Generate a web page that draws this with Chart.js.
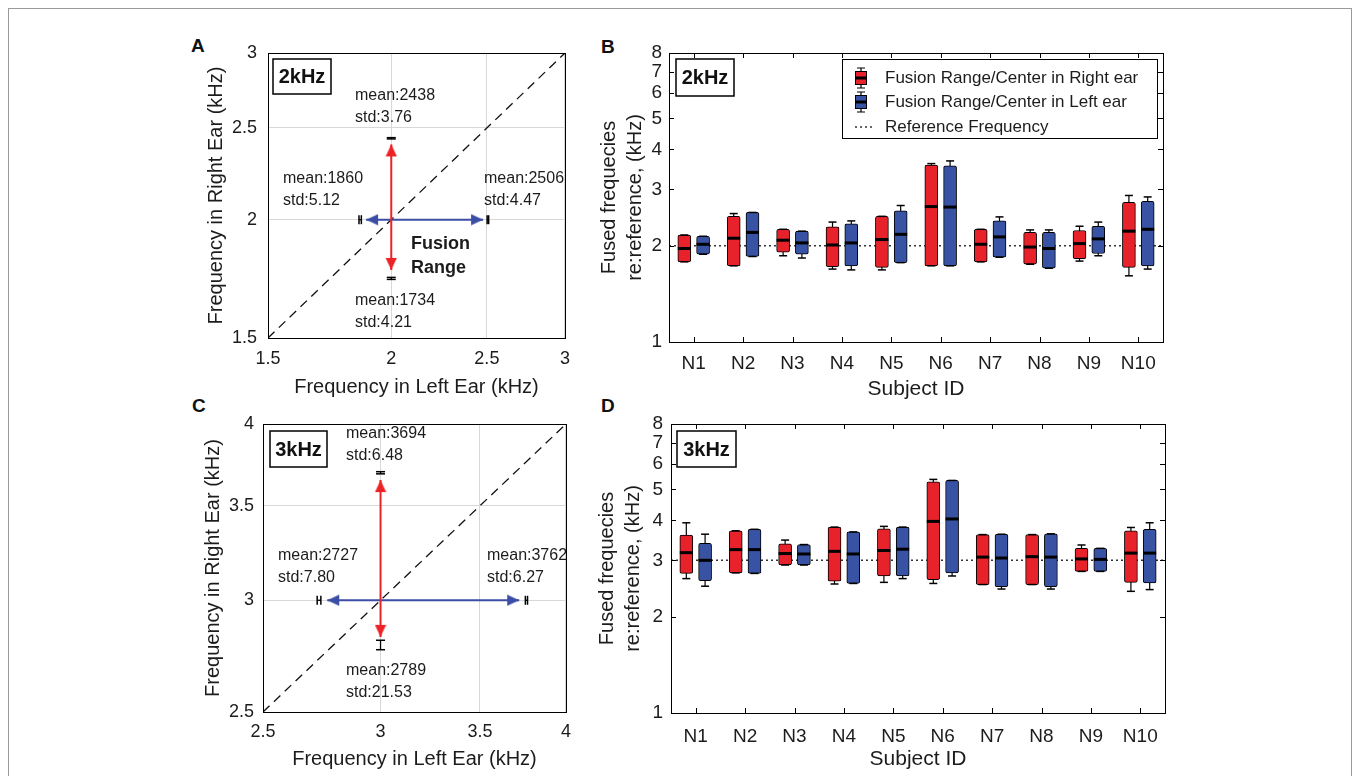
<!DOCTYPE html>
<html>
<head>
<meta charset="utf-8">
<script src="https://cdn.jsdelivr.net/npm/chart.js@4.4.1/dist/chart.umd.min.js"></script>
<style>
html,body{margin:0;padding:0;background:#fff;overflow:hidden;}
#frame{position:absolute;left:8px;top:8px;width:1342px;height:800px;border:1px solid #9a9a9a;}
canvas{position:absolute;}
.tag{position:absolute;font:bold 19px "Liberation Sans",Arial,sans-serif;color:#111;line-height:1;}
</style>
</head>
<body>
<div id="frame"></div>
<div class="tag" style="left:191px;top:36px">A</div>
<div class="tag" style="left:601px;top:37px">B</div>
<div class="tag" style="left:192px;top:396px">C</div>
<div class="tag" style="left:601px;top:396px">D</div>
<canvas id="cA" width="400" height="370" style="left:180px;top:30px"></canvas>
<canvas id="cB" width="600" height="370" style="left:590px;top:30px"></canvas>
<canvas id="cC" width="400" height="380" style="left:180px;top:390px"></canvas>
<canvas id="cD" width="600" height="380" style="left:590px;top:390px"></canvas>
<script>
const subjects = ['N1','N2','N3','N4','N5','N6','N7','N8','N9','N10'];
const logTicks = [1,2,3,4,5,6,7,8];

// per subject: [whisker low, box low, centre, box high, whisker high], kHz
const right2k = [
  [1.78,1.78,1.96,2.16,2.16],[1.73,1.73,2.11,2.47,2.52],[1.86,1.91,2.08,2.25,2.25],
  [1.69,1.72,2.01,2.29,2.37],[1.68,1.71,2.09,2.47,2.47],[1.73,1.73,2.65,3.57,3.61],
  [1.78,1.78,2.02,2.25,2.25],[1.75,1.75,1.98,2.20,2.24],[1.79,1.82,2.03,2.23,2.30],
  [1.61,1.71,2.22,2.73,2.87]];
const left2k = [
  [1.88,1.88,2.02,2.14,2.14],[1.85,1.85,2.20,2.54,2.54],[1.83,1.88,2.04,2.22,2.22],
  [1.68,1.73,2.04,2.34,2.39],[1.77,1.77,2.17,2.57,2.67],[1.73,1.73,2.64,3.55,3.68],
  [1.84,1.84,2.13,2.39,2.46],[1.70,1.70,1.96,2.20,2.24],[1.86,1.89,2.10,2.30,2.37],
  [1.69,1.73,2.25,2.75,2.84]];
const right3k = [
  [2.63,2.73,3.17,3.60,3.93],[2.74,2.74,3.24,3.71,3.71],[2.90,2.90,3.15,3.38,3.47],
  [2.53,2.58,3.20,3.81,3.81],[2.56,2.68,3.22,3.76,3.83],[2.54,2.61,3.97,5.28,5.37],
  [2.52,2.52,3.07,3.61,3.61],[2.52,2.52,3.08,3.61,3.61],[2.77,2.77,3.03,3.27,3.35],
  [2.40,2.56,3.16,3.71,3.80]];
const left3k = [
  [2.49,2.59,3.00,3.39,3.62],[2.73,2.73,3.24,3.75,3.75],[2.90,2.90,3.14,3.36,3.36],
  [2.54,2.54,3.14,3.68,3.68],[2.63,2.68,3.25,3.81,3.81],[2.68,2.74,4.04,5.33,5.33],
  [2.44,2.48,3.05,3.62,3.62],[2.44,2.48,3.07,3.63,3.63],[2.77,2.77,3.02,3.27,3.27],
  [2.43,2.55,3.16,3.75,3.93]];

// fusion limits, order: right ear upper, right ear lower, left ear lower, left ear upper (Hz)
const ticks2k = [1.5,2,2.5,3];
const mean2k = [2438,1734,1860,2506];
const std2k = [3.76,4.21,5.12,4.47];
const tips2k = [2.402,1.770,1.886,2.478];   // arrow tips, kHz
const ticks3k = [2.5,3,3.5,4];
const mean3k = [3694,2789,2727,3762];
const std3k = [6.48,21.53,7.80,6.27];
const tips3k = [3.650,2.826,2.762,3.720];

const FONT = '"Liberation Sans", Arial, sans-serif';
const RED = '#e8222a', BLUE = '#3852a4';
const ARED = '#ec2227', ABLUE = '#3b4ea6';
Chart.defaults.font.family = FONT;
Chart.defaults.color = '#1c1c1c';

function arrowHead(color) {
  const c = document.createElement('canvas');
  c.width = 12; c.height = 26;
  const g = c.getContext('2d');
  g.fillStyle = color;
  g.beginPath(); g.moveTo(6, 13); g.lineTo(11.6, 25); g.lineTo(0.4, 25); g.closePath(); g.fill();
  return c;
}

function miniBox(ctx, x, y, col) {
  ctx.strokeStyle = '#000'; ctx.lineWidth = 1.2;
  ctx.beginPath();
  ctx.moveTo(x, y - 10); ctx.lineTo(x, y + 10);
  ctx.moveTo(x - 4, y - 10); ctx.lineTo(x + 4, y - 10);
  ctx.moveTo(x - 4, y + 10); ctx.lineTo(x + 4, y + 10);
  ctx.stroke();
  ctx.fillStyle = col;
  ctx.fillRect(x - 5.5, y - 6.5, 11, 13);
  ctx.lineWidth = 1;
  ctx.strokeRect(x - 5.5, y - 6.5, 11, 13);
  ctx.lineWidth = 3;
  ctx.beginPath(); ctx.moveTo(x - 5.5, y); ctx.lineTo(x + 5.5, y); ctx.stroke();
}

function drawLegend(ctx) {
  ctx.fillStyle = '#fff';
  ctx.fillRect(252, 29, 315, 79);
  ctx.strokeStyle = '#000'; ctx.lineWidth = 1;
  ctx.strokeRect(252.5, 29.5, 315, 79);
  ctx.font = '17px ' + FONT; ctx.textAlign = 'left'; ctx.textBaseline = 'middle';
  miniBox(ctx, 271, 48, RED);
  miniBox(ctx, 271, 72, BLUE);
  ctx.fillStyle = '#1c1c1c';
  ctx.fillText('Fusion Range/Center in Right ear', 295, 48);
  ctx.fillText('Fusion Range/Center in Left ear', 295, 72);
  ctx.strokeStyle = '#333'; ctx.lineWidth = 1.5; ctx.setLineDash([2, 3]);
  ctx.beginPath(); ctx.moveTo(265, 97); ctx.lineTo(283, 97); ctx.stroke();
  ctx.setLineDash([]);
  ctx.fillText('Reference Frequency', 295, 97);
}

function decor(cfg) {
  return {
    id: 'decor',
    afterDatasetsDraw(chart) {
      const {ctx, chartArea: a, scales} = chart;
      ctx.save();
      ctx.strokeStyle = '#000'; ctx.lineWidth = 1;
      if (cfg.inner) {
        ctx.beginPath();
        logTicks.forEach(v => {
          const y = Math.round(scales.y.getPixelForValue(v)) + 0.5;
          ctx.moveTo(a.left, y); ctx.lineTo(a.left + 5, y);
          ctx.moveTo(a.right, y); ctx.lineTo(a.right - 5, y);
        });
        subjects.forEach((s, i) => {
          const x = Math.round(scales.x.getPixelForValue(i + 1)) + 0.5;
          ctx.moveTo(x, a.top); ctx.lineTo(x, a.top + 5);
          ctx.moveTo(x, a.bottom); ctx.lineTo(x, a.bottom - 5);
        });
        ctx.stroke();
      }
      ctx.strokeRect(Math.round(a.left) + 0.5, Math.round(a.top) + 0.5,
        Math.round(a.right - a.left), Math.round(a.bottom - a.top));
      const t = cfg.tag;
      ctx.fillStyle = '#fff';
      ctx.fillRect(t.x, t.y, t.w, t.h);
      ctx.lineWidth = 1.5;
      ctx.strokeRect(t.x, t.y, t.w, t.h);
      ctx.fillStyle = '#111';
      ctx.font = 'bold 20px ' + FONT; ctx.textAlign = 'center'; ctx.textBaseline = 'middle';
      ctx.fillText(t.text, t.x + t.w / 2, t.y + t.h / 2 + 1);
      ctx.textAlign = 'left';
      ctx.fillStyle = '#1c1c1c';
      (cfg.notes || []).forEach(n => {
        ctx.font = (n.bold ? 'bold ' : '') + n.size + 'px ' + FONT;
        ctx.fillText(n.text, n.x, n.y);
      });
      if (cfg.legend) drawLegend(ctx);
      ctx.restore();
    }
  };
}

function rangeNotes(means, stds, spots) {
  const out = [];
  means.forEach((m, k) => {
    out.push({text: 'mean:' + m, x: spots[k][0], y: spots[k][1], size: 16});
    out.push({text: 'std:' + stds[k].toFixed(2), x: spots[k][0], y: spots[k][1] + 21.5, size: 16});
  });
  return out;
}

function rangeChart(id, ticks, means, stds, tips, L) {
  const ref = ticks[1];
  const lo = ticks[0], hi = ticks[ticks.length - 1];
  const ds = [];
  ds.push({type: 'line', data: [{x: lo, y: lo}, {x: hi, y: hi}], borderColor: '#111',
    borderWidth: 1.3, borderDash: [9, 6], pointRadius: 0, order: 20});
  ds.push({type: 'line', data: [{x: ref, y: tips[0]}, {x: ref, y: tips[1]}], borderColor: ARED,
    borderWidth: 2, pointRadius: 0, order: 10});
  ds.push({type: 'line', data: [{x: tips[2], y: ref}, {x: tips[3], y: ref}], borderColor: ABLUE,
    borderWidth: 2, pointRadius: 0, order: 10});
  const rotR = [0, 180], rotB = [270, 90];
  ds.push({type: 'line', showLine: false, data: [{x: ref, y: tips[0]}, {x: ref, y: tips[1]}],
    pointStyle: arrowHead(ARED), pointRadius: 6, pointRotation: c => rotR[c.dataIndex], order: 5});
  ds.push({type: 'line', showLine: false, data: [{x: tips[2], y: ref}, {x: tips[3], y: ref}],
    pointStyle: arrowHead(ABLUE), pointRadius: 6, pointRotation: c => rotB[c.dataIndex], order: 5});
  means.forEach((m, k) => {
    const a = (m - stds[k]) / 1000, b = (m + stds[k]) / 1000;
    const pts = k < 2 ? [{x: ref, y: a}, {x: ref, y: b}] : [{x: a, y: ref}, {x: b, y: ref}];
    ds.push({type: 'line', data: pts, borderColor: '#000', borderWidth: 1.3, pointRadius: 0, order: 3});
    ds.push({type: 'line', showLine: false, data: pts, pointStyle: 'line', pointRadius: 4.5,
      pointBorderWidth: 1.5, pointBorderColor: '#000', pointRotation: k < 2 ? 0 : 90, order: 2});
  });
  const tickSet = s => { s.ticks = ticks.map(v => ({value: v})); };
  return new Chart(document.getElementById(id), {
    type: 'scatter',
    data: {datasets: ds},
    options: {
      responsive: false, animation: false, events: [],
      layout: {padding: {top: L.top, right: L.right, left: 0, bottom: 0}},
      plugins: {legend: {display: false}, tooltip: {enabled: false}},
      scales: {
        x: {type: 'logarithmic', min: lo, max: hi, afterBuildTicks: tickSet,
          afterFit: s => { s.height = L.xh; },
          ticks: {callback: v => String(v), font: {size: 18}, padding: L.xpad, maxRotation: 0, autoSkip: false},
          grid: {color: '#d8d8d8', drawTicks: false}, border: {display: false},
          title: {display: true, text: 'Frequency in Left Ear (kHz)', font: {size: 20, lineHeight: L.xlh},
            padding: {top: 0, bottom: 0}}},
        y: {type: 'logarithmic', min: lo, max: hi, afterBuildTicks: tickSet,
          afterFit: s => { s.width = L.yw; },
          ticks: {callback: v => String(v), font: {size: 18}, padding: L.ypad, autoSkip: false},
          grid: {color: '#d8d8d8', drawTicks: false}, border: {display: false},
          title: {display: true, text: 'Frequency in Right Ear (kHz)', font: {size: 20, lineHeight: 1.2},
            padding: {top: L.ytp, bottom: 0}}}
      }
    },
    plugins: [decor({tag: L.tag, notes: L.notes})]
  });
}

function boxChart(id, right, left, ref, L) {
  const ds = [];
  ds.push({type: 'line', data: [{x: 0.5, y: ref}, {x: 10.5, y: ref}], borderColor: '#333',
    borderWidth: 1.5, borderDash: [2, 3], pointRadius: 0, order: 20});
  [[right, -0.19, RED], [left, 0.19, BLUE]].forEach(([st, dx, col]) => {
    const stems = [];
    st.forEach((s, i) => { stems.push({x: i + 1 + dx, y: s[0]}, {x: i + 1 + dx, y: s[4]}, {x: i + 1 + dx, y: null}); });
    ds.push({type: 'line', data: stems, borderColor: '#000', borderWidth: 1.2, pointRadius: 0,
      spanGaps: false, order: 15});
    ds.push({type: 'bar', data: st.map((s, i) => ({x: i + 1 + dx, y: [s[1], s[3]]})),
      backgroundColor: col, borderColor: '#000', borderWidth: 1, borderSkipped: false, borderRadius: 2,
      barThickness: 13, maxBarThickness: 13, grouped: false, order: 10});
    ds.push({type: 'line', showLine: false,
      data: st.flatMap((s, i) => [{x: i + 1 + dx, y: s[0]}, {x: i + 1 + dx, y: s[4]}]),
      pointStyle: 'line', pointRadius: 4, pointBorderWidth: 1.5, pointBorderColor: '#000', order: 5});
    ds.push({type: 'line', showLine: false, data: st.map((s, i) => ({x: i + 1 + dx, y: s[2]})),
      pointStyle: 'line', pointRadius: 6.5, pointBorderWidth: 3, pointBorderColor: '#000', order: 1});
  });
  return new Chart(document.getElementById(id), {
    type: 'bar',
    data: {datasets: ds},
    options: {
      responsive: false, animation: false, events: [],
      layout: {padding: {top: L.top, right: L.right, left: 0, bottom: 0}},
      plugins: {legend: {display: false}, tooltip: {enabled: false}},
      scales: {
        x: {type: 'linear', min: 0.5, max: 10.5, offset: false,
          afterBuildTicks: s => { s.ticks = subjects.map((n, i) => ({value: i + 1})); },
          afterFit: s => { s.height = L.xh; },
          ticks: {callback: v => subjects[Math.round(v) - 1], font: {size: 19}, padding: L.xpad,
            maxRotation: 0, autoSkip: false},
          grid: {display: false, drawTicks: false}, border: {display: false},
          title: {display: true, text: 'Subject ID', font: {size: 21, lineHeight: 1.05},
            padding: {top: 0, bottom: 0}}},
        y: {type: 'logarithmic', min: 1, max: 8,
          afterBuildTicks: s => { s.ticks = logTicks.map(v => ({value: v})); },
          afterFit: s => { s.width = L.yw; },
          ticks: {callback: v => String(v), font: {size: 19}, padding: L.ypad, autoSkip: false},
          grid: {display: false, drawTicks: false}, border: {display: false},
          title: {display: true, text: ['Fused frequecies', 're:reference, (kHz)'],
            font: {size: 20, lineHeight: 1.3}, padding: {top: L.ytp, bottom: 0}}}
      }
    },
    plugins: [decor({tag: L.tag, inner: true, legend: L.legend})]
  });
}

const notesA = rangeNotes(mean2k, std2k, [[175, 66], [175, 271], [103, 149], [304, 149]]).concat([
  {text: 'Fusion', x: 231, y: 214, size: 18, bold: true},
  {text: 'Range', x: 231, y: 238, size: 18, bold: true}]);
const notesC = rangeNotes(mean3k, std3k, [[166, 44], [166, 281], [98, 166], [307, 166]]);

rangeChart('cA', ticks2k, mean2k, std2k, tips2k, {top: 23, right: 11, xh: 62, yw: 88, xpad: 10, ypad: 11,
  xlh: 1.25, ytp: 24, tag: {text: '2kHz', x: 93, y: 29, w: 58, h: 35}, notes: notesA});
rangeChart('cC', ticks3k, mean3k, std3k, tips3k, {top: 34, right: 10, xh: 58, yw: 83, xpad: 9, ypad: 9,
  xlh: 1.1, ytp: 21, tag: {text: '3kHz', x: 90, y: 41, w: 57, h: 36}, notes: notesC});
boxChart('cB', right2k, left2k, 2, {top: 23, right: 27, xh: 58, yw: 79, xpad: 10, ypad: 7, ytp: 6,
  tag: {text: '2kHz', x: 86, y: 29, w: 58, h: 37}, legend: true});
boxChart('cD', right3k, left3k, 3, {top: 34, right: 25, xh: 57, yw: 81, xpad: 12, ypad: 8, ytp: 4,
  tag: {text: '3kHz', x: 87, y: 41, w: 59, h: 36}, legend: false});
</script>
</body>
</html>
